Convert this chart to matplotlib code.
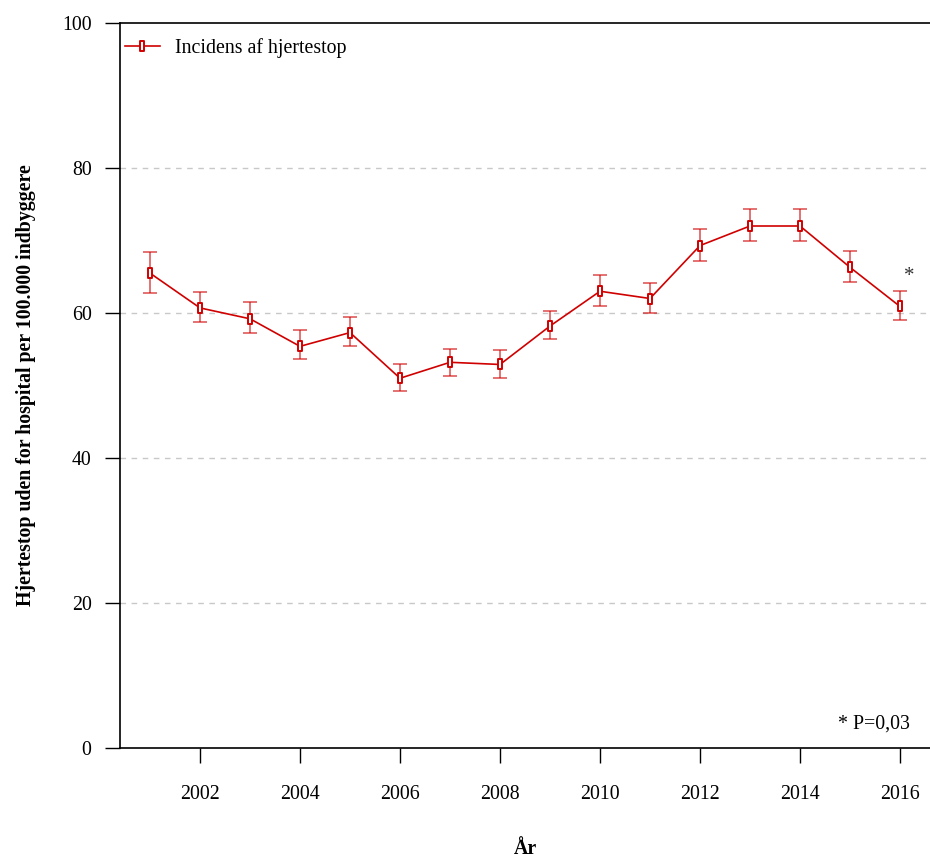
import matplotlib
matplotlib.use("Agg")
import matplotlib.pyplot as plt
from matplotlib.path import Path
import numpy as np

# Annual incidence of out-of-hospital cardiac arrest with 95% CI
years = [2001, 2002, 2003, 2004, 2005, 2006, 2007, 2008,
         2009, 2010, 2011, 2012, 2013, 2014, 2015, 2016]
incidence = [65.5, 60.7, 59.2, 55.4, 57.3, 51.0, 53.2, 52.9,
             58.2, 63.0, 62.0, 69.3, 72.0, 72.0, 66.3, 60.9]
ci_low = [62.8, 58.8, 57.3, 53.7, 55.4, 49.2, 51.3, 51.1,
          56.4, 61.0, 60.0, 67.2, 69.9, 69.9, 64.3, 59.0]
ci_high = [68.4, 62.9, 61.5, 57.6, 59.4, 53.0, 55.1, 54.9,
           60.3, 65.2, 64.1, 71.6, 74.3, 74.3, 68.6, 63.1]

x_ticks = [2002, 2004, 2006, 2008, 2010, 2012, 2014, 2016]
y_ticks = [0, 20, 40, 60, 80, 100]
grid_levels = [20, 40, 60, 80]

series_label = "Incidens af hjertestop"
y_label = "Hjertestop uden for hospital per 100.000 indbyggere"
x_label = "År"
note = "* P=0,03"

plt.rcParams["font.family"] = ["Liberation Serif", "DejaVu Serif"]

RED = "#d00000"

fig = plt.figure(figsize=(9.3, 8.59), dpi=100)
ax = fig.add_axes([120 / 930, 111 / 859, 810 / 930, 725 / 859])

inc = np.array(incidence)
yerr = np.vstack([inc - np.array(ci_low), np.array(ci_high) - inc])

# Tall hollow rectangle marker
rect = Path([(-0.25, -0.5), (0.25, -0.5), (0.25, 0.5), (-0.25, 0.5), (-0.25, -0.5)],
            [Path.MOVETO, Path.LINETO, Path.LINETO, Path.LINETO, Path.CLOSEPOLY])

ax.errorbar(years, inc, yerr=yerr, fmt="none", ecolor=RED, alpha=0.7,
            elinewidth=1.1, capsize=5.2, capthick=1.1, zorder=2)
ax.plot(years, inc, color=RED, lw=1.2, marker=rect, markersize=6.5,
        markerfacecolor="white", markeredgecolor=RED, markeredgewidth=1.4,
        label=series_label, zorder=3)

for g in grid_levels:
    ax.axhline(g, color="#c8c8c8", lw=1.0, ls=(0, (4, 4)), zorder=1)

ax.set_xlim(2000.4, 2016.6)
ax.set_ylim(0, 100)
ax.set_xticks(x_ticks)
ax.set_yticks(y_ticks)
ax.tick_params(axis="both", direction="out", length=10.5, width=1.0,
               labelsize=14.3, color="black")
ax.tick_params(axis="x", pad=16)
ax.tick_params(axis="y", pad=10)

for side in ["left", "bottom", "top"]:
    ax.spines[side].set_linewidth(1.2)
ax.spines["right"].set_visible(False)

ax.set_ylabel(y_label, fontsize=14.3, fontweight="bold", labelpad=19)
ax.set_xlabel(x_label, fontsize=14.3, fontweight="bold", labelpad=25)

ax.text(2016.08, 65.0, "*", fontsize=15, ha="left", va="center", color="#333333")
ax.text(2016.2, 2.0, note, fontsize=14.3, ha="right", va="bottom")

leg = ax.legend(loc="upper left", bbox_to_anchor=(-0.0123, 1.0), frameon=False,
                fontsize=14.3, handlelength=1.75, handletextpad=0.75,
                borderaxespad=0.0, borderpad=0.75)

fig.savefig("out.png", dpi=100)
